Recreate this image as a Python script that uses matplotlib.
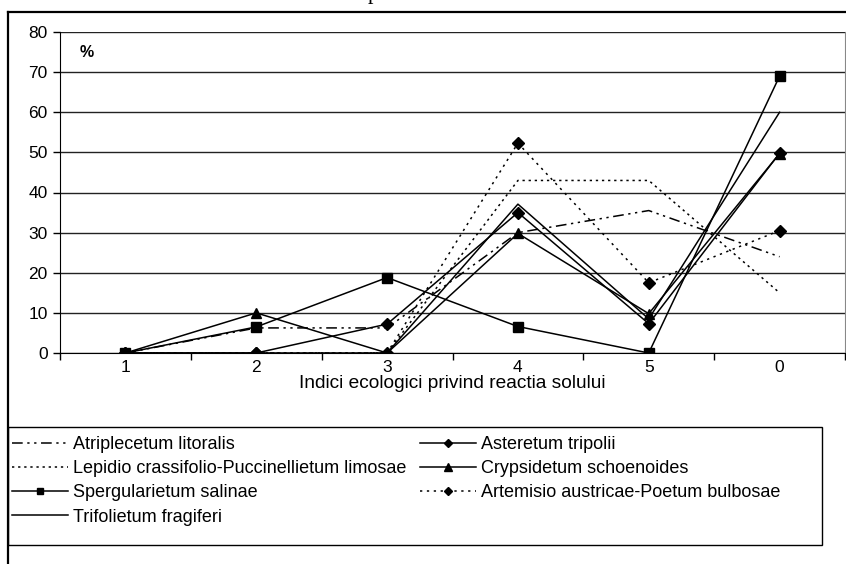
import numpy as np
import matplotlib
matplotlib.use('Agg')
from matplotlib import pyplot as plt
from matplotlib.lines import Line2D
from matplotlib.patches import Rectangle

plt.rcParams['font.family'] = ['Liberation Sans', 'DejaVu Sans']

# categories (ecological index for soil reaction)
categories  = ['1', '2', '3', '4', '5', '0']

# percentages per association
atriplecetum   = [0, 6.25, 6.25, 30, 35.5, 24]
lepidio        = [0, 0, 0, 43, 43, 15]
spergularietum = [0, 6.5, 18.8, 6.6, 0, 69]
trifolietum    = [0, 0, 0, 37.1, 8.5, 60]
asteretum      = [0, 0, 7.2, 35, 7.3, 49.8]
crypsidetum    = [0, 10, 0, 29.8, 9.8, 49.7]
artemisio      = [0, 0, 0, 52.3, 17.5, 30.5]

x = np.arange(len(categories))

fig = plt.figure(figsize=(8.46, 5.64), dpi=100)
ax = fig.add_axes([60/846, 1 - 353/564, 785/846, 321/564])

lw = 1.1
series = [
    ('Atriplecetum litoralis', atriplecetum, dict(ls=(0, (7, 3, 1.5, 3, 1.5, 3)), marker=None)),
    ('Lepidio crassifolio-Puccinellietum limosae', lepidio, dict(ls=(0, (1.5, 2.5)), marker=None)),
    ('Spergularietum salinae', spergularietum, dict(ls='-', marker='s', ms=6.5, lms=4.5)),
    ('Trifolietum fragiferi', trifolietum, dict(ls='-', marker=None)),
    ('Asteretum tripolii', asteretum, dict(ls='-', marker='D', ms=6, lms=4)),
    ('Crypsidetum schoenoides', crypsidetum, dict(ls='-', marker='^', ms=7.5, lms=5.5)),
    ('Artemisio austricae-Poetum bulbosae', artemisio, dict(ls=(0, (1.5, 3)), marker='D', ms=6, lms=4)),
]

handles = []
for name, vals, st in series:
    ax.plot(x, vals, color='black', lw=lw, linestyle=st['ls'],
            marker=st['marker'], markersize=st.get('ms', 0),
            markerfacecolor='black', markeredgecolor='black')
    # smaller markers for the legend, like in the original
    handles.append(Line2D([], [], color='black', lw=lw, linestyle=st['ls'],
                          marker=st['marker'], markersize=st.get('lms', 0),
                          markerfacecolor='black', markeredgecolor='black'))

ax.set_xlim(-0.5, 5.5)
ax.set_ylim(0, 80)
ax.set_yticks(np.arange(0, 81, 10))
ax.yaxis.grid(True, color='#222222', lw=1)
ax.set_axisbelow(True)

ax.set_xticks(x)
ax.set_xticklabels(categories)
ax.set_xticks(np.arange(-0.5, 6, 1), minor=True)
ax.tick_params(axis='x', which='major', length=0, pad=5, labelsize=12.5)
ax.tick_params(axis='x', which='minor', length=5, width=1, direction='out')
ax.tick_params(axis='y', length=5, width=1, direction='out', labelsize=12.5, pad=4)

ax.spines['top'].set_visible(False)
ax.spines['right'].set_color('#888888')
ax.spines['left'].set_color('black')
ax.spines['bottom'].set_color('black')

ax.set_xlabel('Indici ecologici privind reactia solului', fontsize=13.8, labelpad=0)
ax.text(20/785, 75/80, '%', transform=ax.transAxes, fontsize=11.5,
        fontweight='bold', va='center', ha='left')

# outer chart frame
fig.add_artist(Line2D([8/846, 8/846], [0, 1 - 12/564], color='black', lw=1.6))
fig.add_artist(Line2D([8/846, 1], [1 - 12/564, 1 - 12/564], color='black', lw=1.6))

# title (cut off at top)
fig.text(373/846, 1 + 6/564, 'p', family='Liberation Serif', fontsize=16,
         ha='center', va='center')

# legend
leg = fig.legend(handles, [s[0] for s in series],
                 ncol=2, loc='upper left', bbox_to_anchor=(12/846, 1 - 436/564),
                 frameon=False, fontsize=13, handlelength=3.1,
                 handletextpad=0.28, labelspacing=0.40, columnspacing=0.75,
                 borderaxespad=0, borderpad=0)
fig.add_artist(Rectangle((8/846, 1 - 545/564), 814/846, 118/564,
                         transform=fig.transFigure, fill=False,
                         edgecolor='black', lw=1))

fig.savefig('out.png', dpi=100)
